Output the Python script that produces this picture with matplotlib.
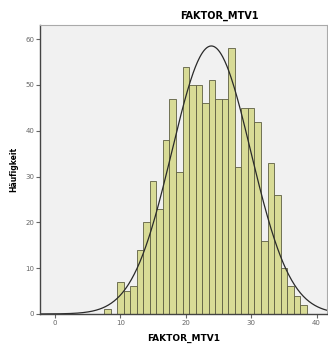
import numpy as np
import matplotlib
matplotlib.use('Agg')
import matplotlib.pyplot as plt

# Häufigkeiten pro Klasse (Klassenmitte, Anzahl)
klassen = [8, 9, 10, 11, 12, 13, 14, 15, 16, 17, 18, 19, 20, 21, 22, 23,
           24, 25, 26, 27, 28, 29, 30, 31, 32, 33, 34, 35, 36, 37, 38]
anzahl = [1, 0, 7, 5, 6, 14, 20, 29, 23, 38, 47, 31, 54, 50, 50, 46,
          51, 47, 47, 58, 32, 45, 45, 42, 16, 33, 26, 10, 6, 4, 2]
xticks = [0, 10, 20, 30, 40]
yticks = [0, 10, 20, 30, 40, 50, 60]

klassen = np.array(klassen)
anzahl = np.array(anzahl)

fig = plt.figure(figsize=(3.28, 3.5), dpi=100)
fig.patch.set_facecolor('white')
ax = fig.add_axes([0.122, 0.103, 0.875, 0.826])
ax.set_facecolor('#f1f1f1')

ax.bar(klassen, anzahl, width=1.0, color='#d8db96', edgecolor='#5e5e42', linewidth=0.6)

# Normalverteilungskurve aus Mittelwert und Std.-Abw. der Daten
n = anzahl.sum()
mw = np.average(klassen, weights=anzahl)
sd = np.sqrt(np.average((klassen - mw) ** 2, weights=anzahl))
xs = np.linspace(-2.3, 41.6, 400)
ys = n / (sd * np.sqrt(2 * np.pi)) * np.exp(-(xs - mw) ** 2 / (2 * sd ** 2))
ax.plot(xs, ys, color='#2a2a2a', linewidth=0.9)

ax.set_xlim(-2.3, 41.6)
ax.set_ylim(0, 63.1)
ax.set_xticks(xticks)
ax.set_yticks(yticks)
ax.tick_params(labelsize=5, colors='#666666', length=3, width=0.8, pad=1)
for s in ['left', 'bottom']:
    ax.spines[s].set_color('#444444')
    ax.spines[s].set_linewidth(1.0)
for s in ['top', 'right']:
    ax.spines[s].set_color('#aaaaaa')
    ax.spines[s].set_linewidth(0.8)

ax.set_xlabel('FAKTOR_MTV1', fontsize=6.5, fontweight='bold', labelpad=6)
ax.set_ylabel('Häufigkeit', fontsize=5.5, fontweight='bold', labelpad=5)
fig.text(0.67, 0.955, 'FAKTOR_MTV1', fontsize=7, fontweight='bold', ha='center', va='center')

fig.savefig('out.png', dpi=100)
